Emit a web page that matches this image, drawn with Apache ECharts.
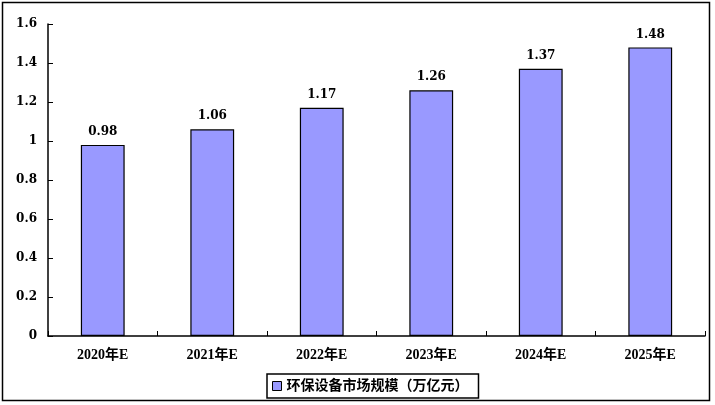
<!DOCTYPE html>
<html><head><meta charset="utf-8">
<script src="https://cdn.jsdelivr.net/npm/echarts@6/dist/echarts.min.js"></script>
<style>html,body{margin:0;padding:0;background:#fff}#c{width:715px;height:405px}</style>
</head><body><div id="c"></div>
<script>
const categories = ['2020年E','2021年E','2022年E','2023年E','2024年E','2025年E'];
const values = [0.98, 1.06, 1.17, 1.26, 1.37, 1.48];
const seriesName = '环保设备市场规模（万亿元）';
const yTicks = ['0','0.2','0.4','0.6','0.8','1','1.2','1.4','1.6'];
const ff = '"Liberation Serif","Noto Sans CJK SC",serif';
const fnum = '"DejaVu Serif","Liberation Serif",serif';
const chart = echarts.init(document.getElementById('c'));
chart.setOption({
  animation:false,
  graphic:[{type:'rect',shape:{x:2.5,y:2.5,width:707,height:398},style:{fill:'none',stroke:'#000',lineWidth:1.5},z:-1}],
  grid:{left:48,right:10,top:24,bottom:69,containLabel:false},
  legend:{bottom:7,left:267,itemWidth:9,itemHeight:9,itemGap:5,padding:[5,10,5,5],
    borderColor:'#000',borderWidth:1.5,borderRadius:0,
    textStyle:{fontFamily:ff,fontWeight:'bold',fontSize:14,color:'#000'},
    icon:'rect',itemStyle:{borderColor:'#000',borderWidth:1}},
  xAxis:{type:'category',data:categories,
    axisLine:{lineStyle:{color:'#000',width:1.5}},
    axisTick:{show:true,inside:true,length:5,lineStyle:{color:'#000'}},
    axisLabel:{fontFamily:ff,fontWeight:'bold',fontSize:14,color:'#000',margin:12}},
  yAxis:{type:'value',min:0,max:1.6,interval:0.2,
    axisLine:{show:true,lineStyle:{color:'#000',width:1.5}},
    axisTick:{show:true,inside:true,length:5,lineStyle:{color:'#000'}},
    splitLine:{show:false},
    axisLabel:{fontFamily:fnum,fontWeight:'bold',fontSize:12,color:'#000',margin:11,
      formatter:(v,i)=>yTicks[i] !== undefined ? yTicks[i] : String(v)}},
  series:[{type:'bar',name:seriesName,data:values,barWidth:'40%',
    itemStyle:{color:'#9999FF',borderColor:'#000',borderWidth:1.2},
    label:{show:true,position:'top',distance:7,fontFamily:fnum,fontWeight:'bold',fontSize:12,color:'#000',
      formatter:p=>p.value.toFixed(2)}}]
});
</script></body></html>
